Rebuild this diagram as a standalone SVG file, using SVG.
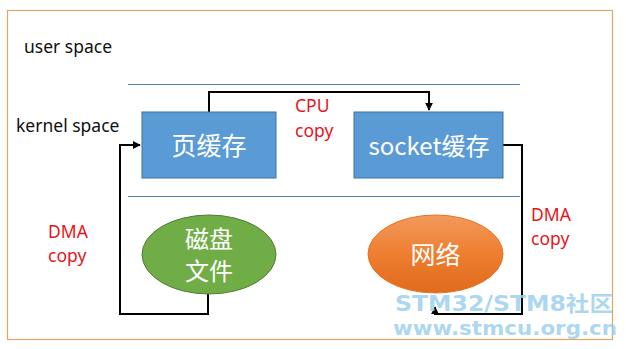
<svg xmlns="http://www.w3.org/2000/svg" width="626" height="349" viewBox="0 0 626 349">
<style>
.lbl{font-family:"Noto Sans","Noto Sans CJK SC",sans-serif;font-size:17.5px;fill:#111}
.red{font-family:"Noto Sans","Noto Sans CJK SC",sans-serif;font-size:17.5px;fill:#E8141C}
.wt{font-family:"Noto Sans CJK SC","Noto Sans",sans-serif;fill:#fff;text-anchor:middle}
.box{fill:#5B9BD5;stroke:#41719C;stroke-width:1}
.sep{stroke:#5A7FB8;stroke-width:1.2}
.conn{fill:none;stroke:#000;stroke-width:2}
.wm{font-family:"DejaVu Sans","Noto Sans CJK SC",sans-serif;font-weight:bold;fill:#9CD0EE;fill-opacity:0.85}
</style>
<defs>
<marker id="arr" viewBox="0 0 10 10" refX="9" refY="5" markerWidth="4" markerHeight="4" orient="auto">
<path d="M0,0 L10,5 L0,10 z" fill="#000"/>
</marker>
<linearGradient id="og" x1="0" y1="0" x2="0" y2="1">
<stop offset="0" stop-color="#F29A5C"/>
<stop offset="0.5" stop-color="#EE7E30"/>
<stop offset="1" stop-color="#E06B1C"/>
</linearGradient>
</defs>
<rect x="0" y="0" width="626" height="349" fill="#fff"/>
<rect x="7.5" y="10.5" width="605" height="329" fill="none" stroke="#E2A468" stroke-width="1.2"/>
<text class="lbl" x="24" y="53">user space</text>
<text class="lbl" x="16" y="132">kernel space</text>
<line class="sep" x1="128" y1="84.5" x2="520" y2="84.5"/>
<line class="sep" x1="128" y1="196.5" x2="520" y2="196.5"/>
<g id="connectors">
<polyline class="conn" points="209,112 209,92 429,92 429,110" marker-end="url(#arr)"/>
<polyline class="conn" points="503,145 522,145 522,314 435,314 435,307" marker-end="url(#arr)"/>
<polyline class="conn" points="208,294 208,314 120,314 120,145 140,145" marker-end="url(#arr)"/>
<text class="red" x="295" y="112">CPU</text>
<text class="red" x="295" y="137">copy</text>
<text class="red" x="48" y="238">DMA</text>
<text class="red" x="48" y="262">copy</text>
<text class="red" x="531" y="221">DMA</text>
<text class="red" x="531" y="245">copy</text>
</g>
<g id="page-cache">
<rect class="box" x="142" y="112" width="134" height="66"/>
<text class="wt" x="209" y="155" font-size="25">页缓存</text>
</g>
<g id="socket-cache">
<rect class="box" x="354" y="112" width="149" height="66"/>
<text class="wt" x="429" y="155" font-size="24">socket缓存</text>
</g>
<g id="disk-file">
<ellipse cx="209" cy="254.5" rx="67" ry="39.5" fill="#70AD47" stroke="#507E32" stroke-width="1"/>
<text class="wt" x="209" y="248" font-size="24">磁盘</text>
<text class="wt" x="209" y="280" font-size="24">文件</text>
</g>
<g id="network">
<ellipse cx="435.5" cy="254" rx="67.5" ry="39" fill="url(#og)" stroke="#E8731F" stroke-width="1"/>
<text class="wt" x="435.5" y="264" font-size="25">网络</text>
</g>
<text class="wm" x="395" y="311" font-size="21" textLength="218" lengthAdjust="spacingAndGlyphs">STM32/STM8社区</text>
<text class="wm" x="393" y="335" font-size="20" textLength="224" lengthAdjust="spacingAndGlyphs">www.stmcu.org.cn</text>
</svg>
